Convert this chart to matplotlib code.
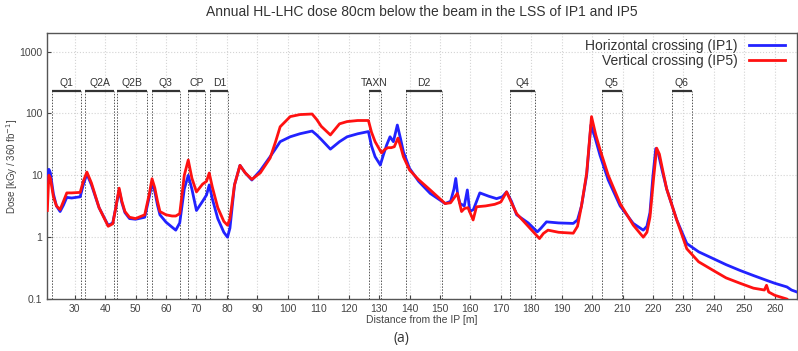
import matplotlib.pyplot as plt
import numpy as np

plt.rcParams['font.family'] = ['Liberation Sans', 'DejaVu Sans']

# horizontal crossing (IP1)
x_h = [21.0, 21.5, 22.0, 23, 24, 25.2, 26.3, 27.4, 29, 31.8, 32.8, 34, 35.5, 38, 41, 42.5, 43.5,
       44.6, 45.5, 46.5, 48, 50, 53, 54.5, 55.4, 56.3, 57.2, 58, 60, 62, 63.2, 64.5, 66, 67.3,
       68.5, 70, 72, 73.3, 74.2, 75.2, 77, 79, 80.2, 81, 82.5, 84.3, 86, 88.2, 91, 94.2,
       96, 97.5, 100.8, 104, 108, 109.5, 111, 114, 117, 119.5, 123, 126.5, 127.5, 128.7,
       130.4, 131.5, 132.5, 133.6, 134.7, 136, 137, 138, 140, 143, 146.8, 151.7,
       153.5, 154.6, 155.2, 155.8, 156.6, 158, 159, 159.8, 161, 163.1, 166, 168.6, 170.5, 171.9,
       173.5, 175.2, 179, 182.0, 183.2, 185, 189, 193.8, 195.2, 196.5, 198.2, 199.6, 201,
       202.6, 205.3, 209.2, 213.5, 216.8, 218, 219, 220, 220.9, 221.8, 223, 224.5,
       227.8, 231.1, 235, 239.8, 244, 248.6, 253, 257.4, 260, 264, 265.5, 267.3]
y_h = [8, 12.5, 11, 5, 3.2, 2.6, 3.3, 4.4, 4.3, 4.5, 7, 10.5, 7, 3, 1.55, 1.7, 3,
       5.8, 3.6, 2.5, 2.0, 1.95, 2.1, 4.5, 7.5, 5.5, 3.3, 2.3, 1.75, 1.45, 1.3, 1.7, 6, 10,
       6, 2.7, 3.8, 4.8, 7, 4.2, 2, 1.2, 1.0, 1.4, 7, 14.5, 11, 8.4, 12, 20,
       27, 35, 42, 47, 52, 45, 38, 26.5, 35, 42, 47, 51, 30, 20,
       14.7, 22, 31, 42, 35, 65, 40, 24, 13, 8, 5.1, 3.5,
       3.8, 6, 8.9, 5, 3.5, 3.2, 5.8, 2.6, 2.8, 5.2, 4.6, 4.2, 4.5, 5.4,
       3.8, 2.3, 1.7, 1.22, 1.4, 1.77, 1.7, 1.67, 1.9, 3.2, 10, 65, 40,
       21, 8.4, 3.2, 1.67, 1.3, 1.5, 2.5, 10, 27, 22, 12, 6,
       1.9, 0.79, 0.58, 0.45, 0.36, 0.29, 0.24, 0.2, 0.18, 0.157, 0.14, 0.13]

# vertical crossing (IP5)
x_v = [21.0, 21.5, 22.0, 23, 24, 25.2, 26.3, 27.4, 29, 31.8, 32.8, 34, 35.5, 38, 41, 42.5, 43.5,
       44.6, 45.5, 46.5, 48, 50, 53, 54.5, 55.4, 56.3, 57.2, 58, 60, 62, 63.2, 64.5, 66, 67.3,
       68.5, 70, 72, 73.3, 74.2, 75.2, 77, 79, 80.2, 81, 82.5, 84.3, 86, 88.2, 91, 94.2,
       96, 97.5, 100.8, 104, 108, 109.5, 111, 114, 117, 119.5, 123, 126.5, 127.5, 128.7,
       130.8, 131.8, 132.9, 134, 135, 136.2, 137, 138, 140, 143, 146.8, 151.7,
       153.5, 155.7, 157.1, 158, 159.2, 160.9, 162, 165, 168, 170, 171.9, 173.5,
       175.2, 179, 182.7, 184, 185.5, 189, 193.8, 195.2, 196.5, 198.2, 199.8, 201.2,
       202.6, 205.3, 209.2, 213.5, 216.8, 218, 219, 220.2, 221.2, 222.1, 223.2, 224.5,
       227.8, 231.1, 235, 239.8, 244, 248.6, 253, 256.6, 257.3, 258, 260, 264, 265.5]
y_v = [2.7, 10, 9, 4.5, 3.2, 2.8, 3.8, 5.2, 5.2, 5.3, 8, 11.3, 7.5, 3, 1.5, 1.65, 3,
       6.2, 3.8, 2.6, 2.1, 2.0, 2.3, 5, 8.8, 6.3, 3.8, 2.6, 2.3, 2.2, 2.2, 2.4, 10, 17.7,
       9, 5.4, 7.2, 8, 10.9, 6.5, 3, 1.8, 1.56, 2, 7, 14.5, 11, 8.6, 11, 19,
       35, 61, 89, 96, 98, 80, 62, 45, 68, 74, 77, 77, 50, 35,
       23, 26, 28, 28, 29, 40, 30, 20, 12.2, 8.5, 5.8, 3.5,
       3.6, 5.1, 2.6, 2.9, 3.0, 1.9, 3.1, 3.2, 3.4, 3.7, 5.4, 3.6,
       2.4, 1.5, 0.95, 1.15, 1.3, 1.2, 1.16, 1.5, 3.2, 10.8, 89, 45,
       26, 10, 3.5, 1.57, 1.0, 1.2, 2.1, 9, 27.5, 22, 12, 6,
       1.9, 0.65, 0.4, 0.29, 0.22, 0.18, 0.15, 0.14, 0.167, 0.13, 0.115, 0.1, 0.085]

# magnet extents [m]
magnets = ['Q1', 'Q2A', 'Q2B', 'Q3', 'CP', 'D1', 'TAXN', 'D2', 'Q4', 'Q5', 'Q6']
mag_start = [22.7, 33.5, 43.9, 55.4, 67.2, 74.6, 126.6, 138.7, 173.0, 203.3, 226.3]
mag_end = [32.2, 42.8, 53.8, 64.5, 72.9, 80.5, 130.5, 150.8, 181.2, 209.7, 232.7]

fig = plt.figure(figsize=(7.98, 3.51), dpi=100)
ax = fig.add_axes([0.0593, 0.148, 0.9394, 0.758])

ax.set_yscale('log')
ax.set_xlim(21, 267.3)
ax.set_ylim(0.1, 2000)

ax.grid(True, which='major', color='#d4d4d4', linestyle=':', linewidth=0.8)
ax.set_axisbelow(True)

box_top = 230
for name, s, e in zip(magnets, mag_start, mag_end):
    ax.plot([s, e], [box_top, box_top], color='#333333', lw=1.6, solid_capstyle='butt', zorder=3)
    ax.plot([s, s], [0.1, box_top], color='#555555', lw=0.7, ls=(0, (1.5, 1.5)), zorder=2)
    ax.plot([e, e], [0.1, box_top], color='#555555', lw=0.7, ls=(0, (1.5, 1.5)), zorder=2)
    ax.text((s + e) / 2, 262, name, ha='center', va='bottom', fontsize=7.5, color='#333333')

ax.plot(x_h, y_h, color='#2222ff', lw=2.0, label='Horizontal crossing (IP1)', zorder=4)
ax.plot(x_v, y_v, color='#ff1111', lw=2.0, label='Vertical crossing (IP5)', zorder=5)

ax.set_xticks(np.arange(30, 261, 10))
ax.set_yticks([0.1, 1, 10, 100, 1000])
ax.set_yticklabels(['0.1', '1', '10', '100', '1000'])
ax.minorticks_off()
ax.tick_params(direction='in', length=3, labelsize=7.5, colors='#444444', labelcolor='#444444')
for sp in ax.spines.values():
    sp.set_color('#555555')
    sp.set_linewidth(1.0)

ax.set_xlabel('Distance from the IP [m]', fontsize=7.5, color='#444444', labelpad=1)
ax.set_ylabel('Dose [kGy / 360 fb$^{-1}$]', fontsize=7, color='#444444')
ax.yaxis.set_label_coords(-0.036, 0.5)
ax.set_title('Annual HL-LHC dose 80cm below the beam in the LSS of IP1 and IP5',
             fontsize=10, color='#333333', pad=12)

leg = ax.legend(loc='upper right', frameon=False, fontsize=10, markerfirst=False,
                handlelength=2.6, borderaxespad=0.2, labelspacing=0.1,
                bbox_to_anchor=(0.995, 1.01))
for t in leg.get_texts():
    t.set_color('#333333')

fig.text(0.503, 0.035, '(a)', ha='center', va='center', fontsize=10,
         family=['Open Sans', 'DejaVu Sans'], color='#333333')

plt.savefig('out.png', dpi=100)
